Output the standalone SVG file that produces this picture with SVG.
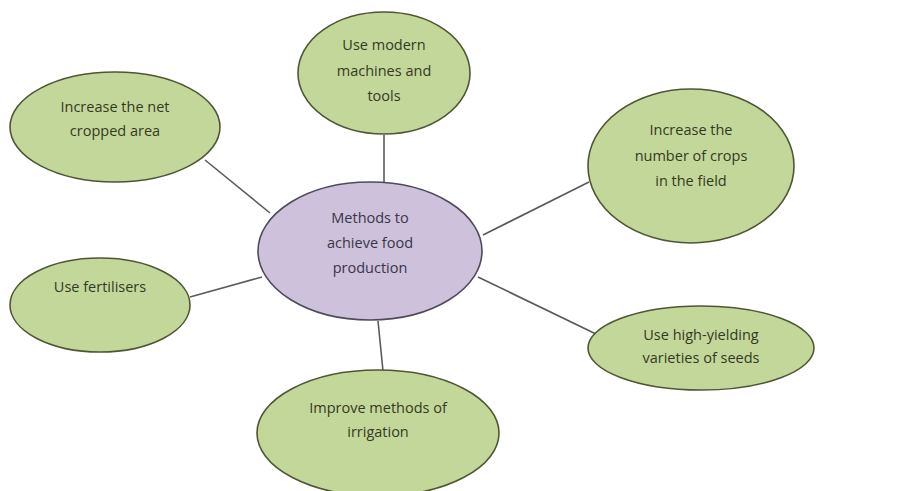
<svg xmlns="http://www.w3.org/2000/svg" width="922" height="491" viewBox="0 0 922 491">
<style>
.bg{fill:#ffffff}
.leaf{fill:#c4d79b;stroke:#4e5734;stroke-width:1.6}
.hub{fill:#cdc1dc;stroke:#4f4a5a;stroke-width:1.6}
.lbl{font-family:"Open Sans","Liberation Sans",sans-serif;font-size:14.5px;fill:#333a22;text-anchor:middle}
.hl{fill:#3a3548}
.con line{stroke:#5a5a5a;stroke-width:1.6}
</style>
<rect class="bg" x="0" y="0" width="922" height="491"/>
<g id="connectors" class="con">
<line x1="205" y1="160" x2="270" y2="213"/>
<line x1="384" y1="135" x2="384" y2="183"/>
<line x1="589" y1="182" x2="483" y2="235"/>
<line x1="190" y1="297" x2="262" y2="277"/>
<line x1="378" y1="321" x2="383" y2="371"/>
<line x1="478" y1="277" x2="596" y2="334"/>
</g>
<g id="hub">
<ellipse class="hub" cx="370" cy="251" rx="112" ry="69"/>
<text class="lbl hl" x="370" y="223">Methods to</text>
<text class="lbl hl" x="370" y="248">achieve food</text>
<text class="lbl hl" x="370" y="273">production</text>
</g>
<g id="net-cropped">
<ellipse class="leaf" cx="115" cy="127" rx="105" ry="55"/>
<text class="lbl" x="115" y="112">Increase the net</text>
<text class="lbl" x="115" y="136">cropped area</text>
</g>
<g id="machines">
<ellipse class="leaf" cx="384" cy="73" rx="86" ry="61"/>
<text class="lbl" x="384" y="50">Use modern</text>
<text class="lbl" x="384" y="76">machines and</text>
<text class="lbl" x="384" y="101">tools</text>
</g>
<g id="crops">
<ellipse class="leaf" cx="691" cy="166" rx="103" ry="77"/>
<text class="lbl" x="691" y="135">Increase the</text>
<text class="lbl" x="691" y="161">number of crops</text>
<text class="lbl" x="691" y="186">in the field</text>
</g>
<g id="fertilisers">
<ellipse class="leaf" cx="100" cy="305" rx="90" ry="47"/>
<text class="lbl" x="100" y="292">Use fertilisers</text>
</g>
<g id="seeds">
<ellipse class="leaf" cx="701" cy="348" rx="113" ry="42"/>
<text class="lbl" x="701" y="340">Use high-yielding</text>
<text class="lbl" x="701" y="363">varieties of seeds</text>
</g>
<g id="irrigation">
<ellipse class="leaf" cx="378" cy="433" rx="121" ry="63"/>
<text class="lbl" x="378" y="413">Improve methods of</text>
<text class="lbl" x="378" y="437">irrigation</text>
</g>
</svg>
